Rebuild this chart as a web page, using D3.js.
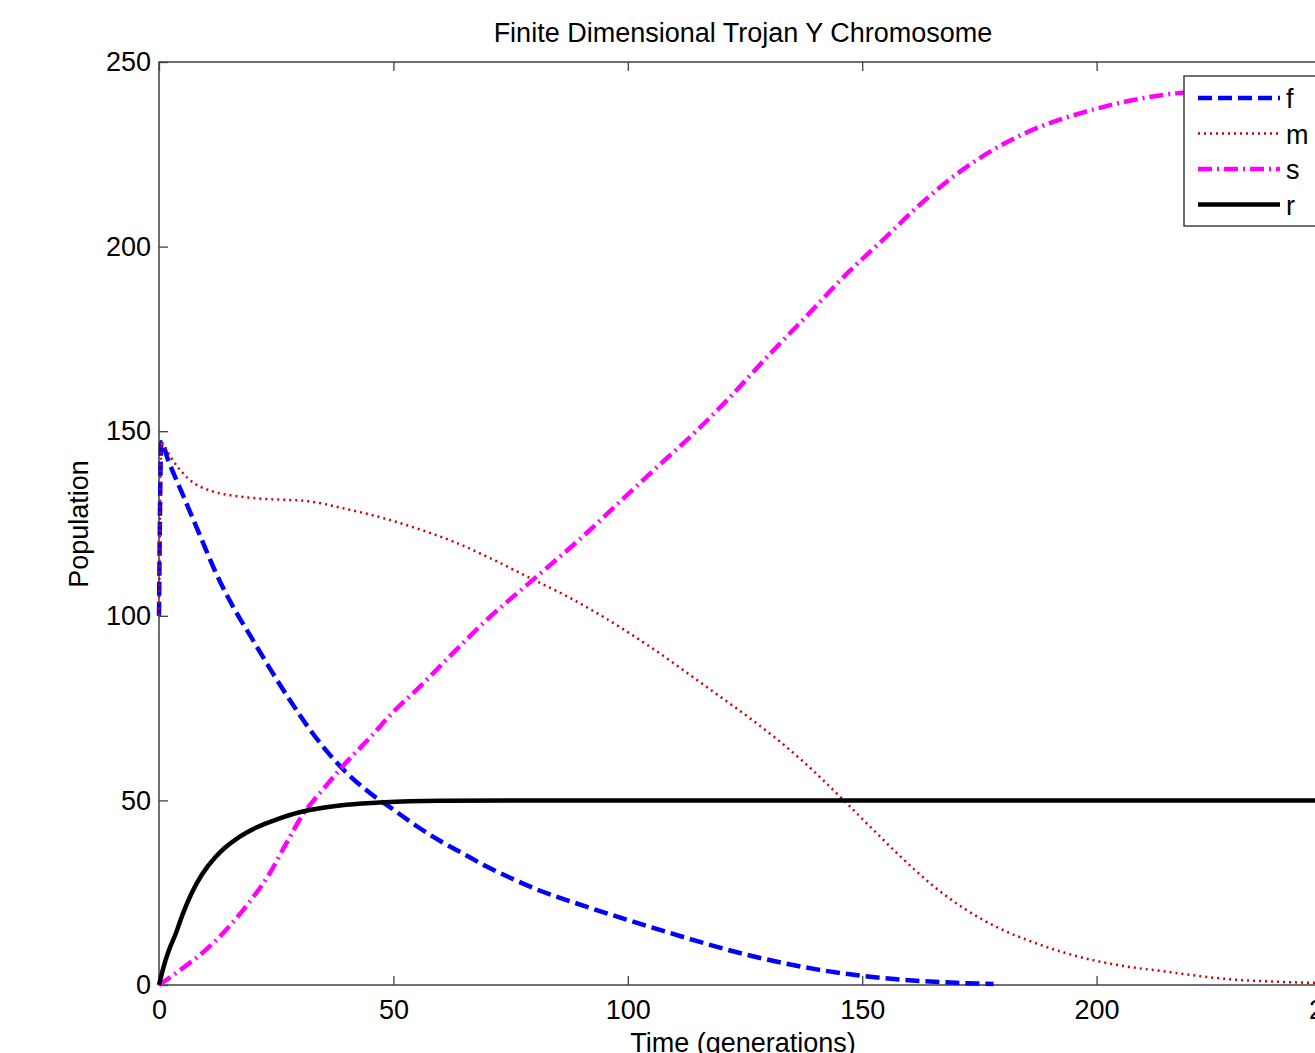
<!DOCTYPE html>
<html>
<head>
<meta charset="utf-8">
<script src="https://cdn.jsdelivr.net/npm/d3@7"></script>
<style>
  body { margin: 0; background: #fff; overflow: hidden; }
  text { font-family: "Liberation Sans", Arial, sans-serif; fill: #000; }
</style>
</head>
<body>
<svg id="chart" width="1315" height="1053"></svg>
<script>
// time (generations), population
var fData = [[0, 100], [0.5, 147], [2, 142], [5, 133], [9, 121], [12, 112], [16, 102], [20, 93.5],
  [24, 85], [28, 77], [32, 69.5], [36, 63], [40, 57.5], [45, 52], [50, 47.5], [55, 43], [60, 39],
  [65, 35.5], [70, 32], [75, 29], [80, 26.2], [90, 21.7], [100, 17.6], [110, 13.7], [115, 11.8],
  [125, 8.3], [133, 6], [140, 4.3], [150, 2.5], [160, 1.3], [170, 0.6], [178, 0.3]];

var mData = [[0, 100], [0.5, 147], [1.1, 146], [3, 142], [6.4, 137], [11.7, 133.6], [16, 132.5],
  [21, 131.8], [32, 131], [39, 129.2], [48, 126.4], [57, 122.8], [63, 120], [70, 116],
  [80, 109.7], [87, 105.3], [94, 100.3], [105, 91.4], [115, 82.4], [122, 76], [126, 72.3],
  [137, 61], [146, 50.1], [152, 42.5], [158, 35], [165, 27], [172, 20.5], [179, 15.5],
  [186, 11.8], [193, 8.8], [200, 6.5], [207, 4.9], [215, 3.6], [222, 2.4], [229, 1.5],
  [238, 0.9], [246, 0.6], [250, 0.5]];

var sData = [[0, 0], [5, 4.5], [10, 9.5], [14, 14.5], [19, 22], [23.5, 30], [27, 38], [30.6, 46],
  [35, 53], [39, 59], [45, 67], [50, 74], [55, 80], [62, 89], [70, 99], [80, 110], [90, 121],
  [98, 130.5], [106, 140], [115, 150.5], [122, 159.5], [130, 170.5], [138, 181], [147, 193],
  [155, 202.5], [162, 211], [170, 219.5], [179, 227], [188, 232.5], [197, 236.3], [207, 239.5],
  [217, 241.5], [222, 242]];

var rData = [[0, 0], [1, 5], [2, 9], [3.6, 14], [5, 19], [7, 25], [9.2, 30], [12, 34.6],
  [14, 37.1], [17, 40], [21, 42.8], [25, 44.8], [30, 46.8], [35, 48], [40, 48.8], [48, 49.5],
  [60, 49.9], [80, 50], [250, 50]];

var xTicks = [0, 50, 100, 150, 200, 250];
var yTicks = [0, 50, 100, 150, 200, 250];
var legendNames = ["f", "m", "s", "r"];

var svg = d3.select("#chart"),
  MARGINS = { top: 62, left: 159 },
  PW = 1172,
  PH = 923;

var x = d3.scaleLinear().domain([0, 250]).range([MARGINS.left, MARGINS.left + PW]);
var y = d3.scaleLinear().domain([0, 250]).range([MARGINS.top + PH, MARGINS.top]);

var axisColor = "#404040";
var fontSize = 27;

// plot box
svg.append("rect")
  .attr("x", x(0)).attr("y", y(250))
  .attr("width", PW).attr("height", PH)
  .attr("fill", "#fff")
  .attr("stroke", axisColor)
  .attr("stroke-width", 1.5);

// bottom / left axes with inward ticks
svg.append("g")
  .attr("transform", "translate(0," + y(0) + ")")
  .call(d3.axisBottom(x).tickValues(xTicks).tickSizeInner(-9).tickSizeOuter(0).tickPadding(15))
  .call(g => g.select(".domain").remove())
  .call(g => g.selectAll("line").attr("stroke", axisColor).attr("stroke-width", 1.3))
  .call(g => g.selectAll("text").attr("font-size", fontSize).attr("font-family", "Liberation Sans, Arial, sans-serif").attr("fill", "#000"));

svg.append("g")
  .attr("transform", "translate(" + x(0) + ",0)")
  .call(d3.axisLeft(y).tickValues(yTicks).tickSizeInner(-9).tickSizeOuter(0).tickPadding(8))
  .call(g => g.select(".domain").remove())
  .call(g => g.selectAll("line").attr("stroke", axisColor).attr("stroke-width", 1.3))
  .call(g => g.selectAll("text").attr("font-size", fontSize).attr("font-family", "Liberation Sans, Arial, sans-serif").attr("fill", "#000"));

// top ticks (box)
svg.append("g")
  .attr("transform", "translate(0," + y(250) + ")")
  .call(d3.axisTop(x).tickValues(xTicks).tickSizeInner(-9).tickSizeOuter(0).tickFormat(""))
  .call(g => g.select(".domain").remove())
  .call(g => g.selectAll("line").attr("stroke", axisColor).attr("stroke-width", 1.3));

var lineFunc = d3.line()
  .x(function (d) { return x(d[0]); })
  .y(function (d) { return y(d[1]); })
  .curve(d3.curveMonotoneX);

var series = [
  { data: fData, color: "#0000ff", width: 4.5, dash: "14,6" },
  { data: mData, color: "#cc0000", width: 2.5, dash: "2,4" },
  { data: sData, color: "#ff00ff", width: 4.5, dash: "14,5,2,5" },
  { data: rData, color: "#000000", width: 4.5, dash: null }
];

series.forEach(function (s) {
  svg.append("path")
    .attr("d", lineFunc(s.data))
    .attr("fill", "none")
    .attr("stroke", s.color)
    .attr("stroke-width", s.width)
    .attr("stroke-dasharray", s.dash);
});

// title and axis labels
svg.append("text")
  .attr("x", 743).attr("y", 42)
  .attr("text-anchor", "middle")
  .attr("font-size", fontSize)
  .text("Finite Dimensional Trojan Y Chromosome");

svg.append("text")
  .attr("x", 743).attr("y", 1052)
  .attr("text-anchor", "middle")
  .attr("font-size", fontSize)
  .text("Time (generations)");

svg.append("text")
  .attr("transform", "translate(88,524) rotate(-90)")
  .attr("text-anchor", "middle")
  .attr("font-size", fontSize)
  .text("Population");

// legend
var lg = svg.append("g").attr("transform", "translate(1184,76)");
lg.append("rect")
  .attr("width", 150).attr("height", 150)
  .attr("fill", "#fff")
  .attr("stroke", axisColor)
  .attr("stroke-width", 1.5);

series.forEach(function (s, i) {
  var yy = 22 + i * 35.5;
  lg.append("line")
    .attr("x1", 14).attr("x2", 96)
    .attr("y1", yy).attr("y2", yy)
    .attr("stroke", s.color)
    .attr("stroke-width", s.width)
    .attr("stroke-dasharray", s.dash);
  lg.append("text")
    .attr("x", 102).attr("y", yy + 10)
    .attr("font-size", fontSize)
    .text(legendNames[i]);
});
</script>
</body>
</html>
